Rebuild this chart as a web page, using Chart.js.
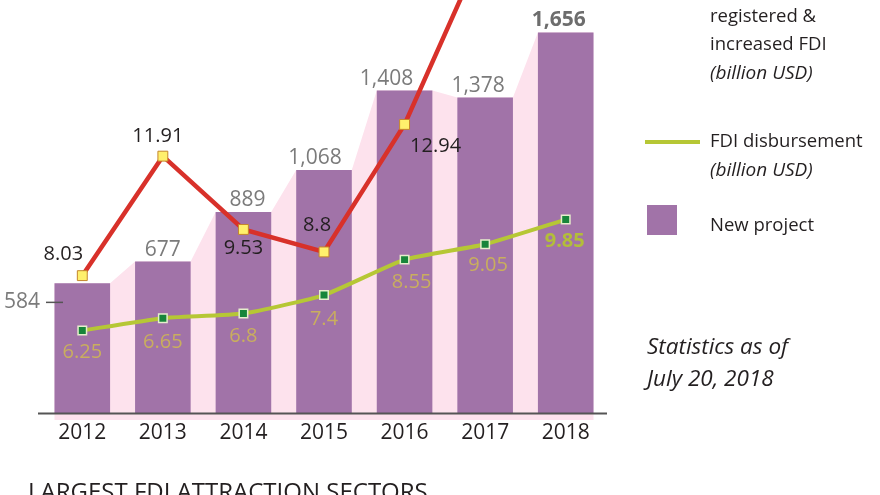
<!DOCTYPE html>
<html>
<head>
<meta charset="utf-8">
<script src="https://cdn.jsdelivr.net/npm/chart.js@4/dist/chart.umd.min.js"></script>
<style>
html, body { margin: 0; padding: 0; background: #fff; }
#wrap { width: 880px; height: 495px; position: relative; }
</style>
</head>
<body>
<div id="wrap"><canvas id="fdi" width="880" height="495"></canvas></div>
<script>
var years = ['2012', '2013', '2014', '2015', '2016', '2017', '2018'];
var newProjects = [584, 677, 889, 1068, 1408, 1378, 1656];
var projectText = ['584', '677', '889', '1,068', '1,408', '1,378', '1,656'];
var registeredFDI = [8.03, 11.91, 9.53, 8.8, 12.94, 18.8, 20.3];   // 2017/2018 run off the top
var disbursedFDI = [6.25, 6.65, 6.8, 7.4, 8.55, 9.05, 9.85];

// label nudges (pixels)
var barShift = [0, 0, 4, -9, -18, -7, -7];
var redOffsets = [[-19, -21], [-5, -20], [0, 19], [-7, -27], [31, 22]];
var greenOffsets = [[0, 22], [0, 24], [0, 23], [0, 24], [7, 23], [3, 21], [-1, 22]];

var FONT = "'Open Sans', sans-serif";
var PURPLE = '#a173a8';
var PINK = '#fde2ed';

function txt(ctx, s, x, y, font, color, align) {
    ctx.font = font;
    ctx.fillStyle = color;
    ctx.textAlign = align || 'center';
    ctx.textBaseline = 'middle';
    ctx.fillText(s, x, y);
}

var overlay = {
    id: 'overlay',
    beforeDatasetsDraw: function (chart) {
        // pink band joining the bar tops corner to corner
        let ctx = chart.ctx;
        let bars = chart.getDatasetMeta(2).data;
        ctx.save();
        ctx.beginPath();
        let base = bars[0].base;
        ctx.moveTo(bars[0].x - bars[0].width / 2, base);
        bars.forEach((b) => {
            ctx.lineTo(b.x - b.width / 2, b.y);
            ctx.lineTo(b.x + b.width / 2, b.y);
        });
        let last = bars[bars.length - 1];
        ctx.lineTo(last.x + last.width / 2, base);
        ctx.closePath();
        ctx.fillStyle = PINK;
        ctx.fill();
        ctx.restore();
    },
    afterDatasetsDraw: function (chart) {
        let ctx = chart.ctx;
        let area = chart.chartArea;
        let bars = chart.getDatasetMeta(2).data;
        let red = chart.getDatasetMeta(0).data;
        let green = chart.getDatasetMeta(1).data;
        ctx.save();

        // baseline
        ctx.strokeStyle = '#555';
        ctx.lineWidth = 2;
        ctx.beginPath();
        ctx.moveTo(area.left - 4, area.bottom + 0.5);
        ctx.lineTo(area.right + 1, area.bottom + 0.5);
        ctx.stroke();

        // years
        bars.forEach((b, i) => {
            txt(ctx, years[i], b.x, area.bottom + 20, '21px ' + FONT, '#231f20');
        });

        // project counts
        bars.forEach((b, i) => {
            if (i == 0) {
                txt(ctx, projectText[i], area.left - 2, b.y + 19, '21px ' + FONT, '#7b7b7b', 'right');
                ctx.strokeStyle = '#555';
                ctx.lineWidth = 1.5;
                ctx.beginPath();
                ctx.moveTo(area.left + 4, b.y + 19);
                ctx.lineTo(area.left + 21, b.y + 19);
                ctx.stroke();
            } else if (i == bars.length - 1) {
                txt(ctx, projectText[i], b.x + barShift[i], b.y - 13, 'bold 21px ' + FONT, '#6d6d6d');
            } else {
                txt(ctx, projectText[i], b.x + barShift[i], b.y - 12, '21px ' + FONT, '#7b7b7b');
            }
        });

        // registered FDI values
        redOffsets.forEach((o, i) => {
            let p = red[i];
            txt(ctx, String(registeredFDI[i]), p.x + o[0], p.y + o[1], '20px ' + FONT, '#231f20');
        });

        // disbursement values
        greenOffsets.forEach((o, i) => {
            let p = green[i];
            let lastOne = i == greenOffsets.length - 1;
            txt(ctx, String(disbursedFDI[i]), p.x + o[0], p.y + o[1],
                (lastOne ? 'bold ' : '') + '20px ' + FONT, lastOne ? '#b3bd3a' : '#c9ae5e');
        });

        // legend
        let lx = 710;
        txt(ctx, 'registered &', lx, 17, '18.5px ' + FONT, '#231f20', 'left');
        txt(ctx, 'increased FDI', lx, 45, '18.5px ' + FONT, '#231f20', 'left');
        txt(ctx, '(billion USD)', lx, 74, 'italic 19px ' + FONT, '#231f20', 'left');

        ctx.strokeStyle = '#b6c735';
        ctx.lineWidth = 4;
        ctx.beginPath();
        ctx.moveTo(645, 142);
        ctx.lineTo(700, 142);
        ctx.stroke();
        txt(ctx, 'FDI disbursement', lx, 142, '18.5px ' + FONT, '#231f20', 'left');
        txt(ctx, '(billion USD)', lx, 171, 'italic 19px ' + FONT, '#231f20', 'left');

        ctx.fillStyle = PURPLE;
        ctx.fillRect(647, 205, 30, 30);
        txt(ctx, 'New project', lx, 226, '18.5px ' + FONT, '#231f20', 'left');

        txt(ctx, 'Statistics as of', 647, 348, 'italic 22.5px ' + FONT, '#231f20', 'left');
        txt(ctx, 'July 20, 2018', 647, 380, 'italic 22.5px ' + FONT, '#231f20', 'left');

        // section heading cut by the bottom edge
        ctx.font = '24px ' + FONT;
        ctx.fillStyle = '#231f20';
        ctx.textAlign = 'left';
        ctx.textBaseline = 'alphabetic';
        ctx.fillText('LARGEST FDI ATTRACTION SECTORS', 28, 500);

        ctx.restore();
    }
};

const chart = new Chart(document.getElementById('fdi'), {
    type: 'bar',
    data: {
        labels: years,
        datasets: [{
            type: 'line',
            label: 'registered & increased FDI',
            data: registeredFDI,
            yAxisID: 'y2',
            order: 1,
            borderColor: '#d8312a',
            borderWidth: 4.5,
            tension: 0,
            pointStyle: 'rect',
            pointRadius: 7,
            pointBackgroundColor: '#fff06c',
            pointBorderColor: '#c4862c',
            pointBorderWidth: 1
        }, {
            type: 'line',
            label: 'FDI disbursement',
            data: disbursedFDI,
            yAxisID: 'y2',
            order: 2,
            borderColor: '#b6c735',
            borderWidth: 4,
            tension: 0.15,
            pointStyle: 'rect',
            pointRadius: 6,
            pointBackgroundColor: '#17853a',
            pointBorderColor: '#e6efcc',
            pointBorderWidth: 1.5
        }, {
            label: 'New project',
            data: newProjects,
            yAxisID: 'y',
            order: 3,
            backgroundColor: PURPLE,
            categoryPercentage: 1,
            barPercentage: 0.69
        }]
    },
    options: {
        responsive: false,
        animation: false,
        devicePixelRatio: 1,
        layout: {
            autoPadding: false,
            padding: { left: 42, right: 274, top: 0, bottom: 82 }
        },
        plugins: {
            legend: { display: false },
            tooltip: { enabled: false }
        },
        scales: {
            x: { display: false },
            y: { display: false, min: 30, max: 1795 },
            y2: { display: false, position: 'right', min: 3.57, max: 16.98 }
        }
    },
    plugins: [overlay]
});
</script>
</body>
</html>
